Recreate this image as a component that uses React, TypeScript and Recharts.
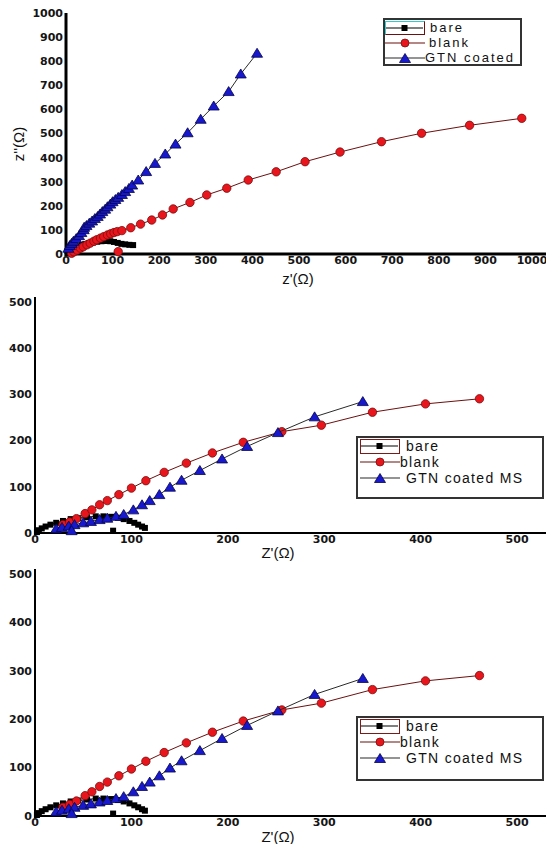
import React from 'react';
import { ScatterChart, Scatter, XAxis, YAxis, Label } from 'recharts';

type Pt = [number, number];

const names1 = ['bare', 'blank', 'GTN coated'];
const names2 = ['bare', 'blank', 'GTN coated MS'];

const ticks1 = [0, 100, 200, 300, 400, 500, 600, 700, 800, 900, 1000];
const ticks2 = [0, 100, 200, 300, 400, 500];

// top plot
const bare1: Pt[] = [
  [3, 2], [6, 9], [10, 15], [15, 21], [21, 27], [27, 32], [34, 37], [41, 41], [49, 45], [58, 48],
  [67, 51], [76, 53], [86, 54], [95, 53], [103, 50], [111, 46], [119, 42], [127, 40], [136, 38], [144, 37],
];
const blank1: Pt[] = [
  [12, 3], [17, 9], [24, 16], [31, 24], [37, 30], [45, 38], [52, 45], [60, 53], [66, 59], [74, 66],
  [81, 72], [89, 79], [96, 84], [103, 89], [110, 93], [120, 97], [139, 109], [160, 124], [184, 141],
  [207, 162], [230, 187], [266, 214], [302, 245], [345, 273], [391, 307], [451, 341], [513, 383],
  [588, 423], [677, 466], [763, 501], [866, 534], [978, 563],
];
const blankStray1: Pt[] = [[112, 10]];
const gtn1: Pt[] = [
  [5, 24], [8, 35], [12, 44], [16, 53], [22, 64], [28, 76], [33, 89], [38, 101], [39, 111], [44, 118],
  [50, 128], [56, 137], [62, 147], [68, 156], [73, 166], [78, 176], [84, 186], [89, 196], [95, 207],
  [100, 217], [106, 226], [112, 235], [120, 247], [127, 259], [135, 272], [142, 286], [155, 307],
  [172, 342], [191, 376], [213, 415], [235, 456], [261, 503], [289, 559], [317, 614], [349, 674],
  [375, 747], [410, 833],
];

// middle and bottom plots
const bare2: Pt[] = [
  [2, 2], [4, 6], [7, 10], [11, 14], [16, 18], [22, 22], [29, 26], [37, 30], [45, 32], [54, 34],
  [63, 36], [71, 36], [79, 35], [86, 33], [92, 30], [98, 26], [103, 22], [107, 18], [111, 14], [114, 11],
];
const bareStray2: Pt[] = [[81, 5]];
const blank2: Pt[] = [
  [29, 18], [36, 24], [43, 31], [52, 42], [59, 50], [67, 61], [75, 70], [87, 83], [100, 97], [115, 113],
  [134, 131], [157, 151], [184, 173], [216, 196], [256, 219], [297, 233], [350, 261], [405, 279], [461, 290],
];
const gtn2: Pt[] = [
  [22, 9], [28, 12], [35, 15], [41, 18], [50, 22], [58, 25], [67, 29], [75, 32], [84, 36], [92, 40],
  [102, 50], [111, 61], [119, 70], [129, 83], [140, 99], [152, 114], [171, 135], [194, 160], [220, 187],
  [252, 217], [290, 251], [340, 284],
];
const gtnStray2: Pt[] = [[38, 5]];

const toXY = (pts: Pt[]) => pts.map(([x, y]) => ({ x, y }));

const RED = '#e8161c';
const BLUE = '#1818cc';

const Square = (p: any) => <rect x={p.cx - 3} y={p.cy - 3} width={6} height={6} fill="#000" />;
const Dot = (p: any) => (
  <circle cx={p.cx} cy={p.cy} r={4.2} fill={RED} stroke="#7a0c0c" strokeWidth={0.8} />
);
const Tri = (p: any) => (
  <polygon
    points={`${p.cx},${p.cy - 5} ${p.cx + 5.5},${p.cy + 4} ${p.cx - 5.5},${p.cy + 4}`}
    fill={BLUE}
    stroke="#05054a"
    strokeWidth={0.8}
  />
);

const tickStyle = { fill: '#151515', fontFamily: 'DejaVu Sans', fontWeight: 'bold', fontSize: 11 };
const labelFont = { fontFamily: 'Liberation Sans, Arial', fontSize: 15, fill: '#111' };

interface PanelProps {
  top: number;
  height: number;
  marginTop: number;
  xHeight: number;
  yWidth: number;
  xDomain: [number, number];
  yDomain: [number, number];
  ticks: number[];
  axisWidth: number;
  series: { bare: Pt[]; blank: Pt[]; gtn: Pt[]; strays: { pts: Pt[]; kind: string }[] };
  xLabel: string;
  xLabelPos: [number, number];
  yLabel?: string;
  yLabelPos?: [number, number];
}

function Panel(p: PanelProps) {
  const shapes: Record<string, any> = { bare: Square, blank: Dot, gtn: Tri };
  return (
    <div style={{ position: 'absolute', left: 0, top: p.top, width: 546, height: p.height }}>
      <ScatterChart width={546} height={p.height} margin={{ top: p.marginTop, right: 0, bottom: 0, left: 0 }}>
        <XAxis
          type="number"
          dataKey="x"
          domain={p.xDomain}
          ticks={p.ticks}
          interval={0}
          tickLine={false}
          tickSize={0}
          tickMargin={2}
          height={p.xHeight}
          axisLine={{ stroke: '#000', strokeWidth: p.axisWidth }}
          tick={tickStyle}
        >
          <Label
            content={() => (
              <text x={p.xLabelPos[0]} y={p.xLabelPos[1]} textAnchor="middle" dominantBaseline="central" {...labelFont}>
                {p.xLabel}
              </text>
            )}
          />
        </XAxis>
        <YAxis
          type="number"
          dataKey="y"
          domain={p.yDomain}
          ticks={p.ticks.filter((t) => t <= p.yDomain[1])}
          interval={0}
          tickLine={false}
          tickSize={0}
          tickMargin={3}
          width={p.yWidth}
          axisLine={{ stroke: '#000', strokeWidth: p.axisWidth }}
          tick={tickStyle}
        >
          {p.yLabel && p.yLabelPos ? (
            <Label
              content={() => (
                <text
                  x={p.yLabelPos![0]}
                  y={p.yLabelPos![1]}
                  transform={`rotate(-90 ${p.yLabelPos![0]} ${p.yLabelPos![1]})`}
                  textAnchor="middle"
                  dominantBaseline="central"
                  {...labelFont}
                >
                  {p.yLabel}
                </text>
              )}
            />
          ) : null}
        </YAxis>
        <Scatter name="bare" data={toXY(p.series.bare)} shape={Square} line={{ stroke: '#000', strokeWidth: 1 }} isAnimationActive={false} />
        <Scatter name="blank" data={toXY(p.series.blank)} shape={Dot} line={{ stroke: '#6b1010', strokeWidth: 1 }} isAnimationActive={false} />
        <Scatter name="gtn" data={toXY(p.series.gtn)} shape={Tri} line={{ stroke: '#2a2a2a', strokeWidth: 1 }} isAnimationActive={false} />
        {p.series.strays.map((s, i) => (
          <Scatter key={i} data={toXY(s.pts)} shape={shapes[s.kind]} legendType="none" isAnimationActive={false} />
        ))}
      </ScatterChart>
    </div>
  );
}

function LegendSym({ kind, w, lineColor }: { kind: string; w: number; lineColor: string }) {
  const c = w / 2;
  return (
    <svg width={w} height={12} style={{ display: 'block' }}>
      <line x1={0} y1={6} x2={w} y2={6} stroke={lineColor} strokeWidth={1.2} />
      {kind === 'bare' && <rect x={c - 3} y={3} width={6} height={6} fill="#000" />}
      {kind === 'blank' && <circle cx={c} cy={6} r={4} fill={RED} stroke="#7a0c0c" strokeWidth={0.8} />}
      {kind === 'gtn' && <polygon points={`${c},1.5 ${c + 5.5},10.5 ${c - 5.5},10.5`} fill={BLUE} stroke="#05054a" strokeWidth={0.8} />}
    </svg>
  );
}

function LegendBox({ left, top, width, height, names, gaps, boxColor, rowH, fontSize, spacing }: {
  left: number; top: number; width: number; height: number; names: string[];
  gaps: number[]; boxColor: [string, string]; rowH: number; fontSize: number; spacing: number;
}) {
  const kinds = ['bare', 'blank', 'gtn'];
  const lines = ['#000', '#6b1010', '#2a2a2a'];
  return (
    <div
      style={{
        position: 'absolute', left, top, width, height, boxSizing: 'border-box',
        border: '2px solid #333', background: '#fff', fontFamily: 'Liberation Sans, Arial',
        fontSize, letterSpacing: spacing, color: '#111',
      }}
    >
      {names.map((n, i) => (
        <div key={n} style={{ display: 'flex', alignItems: 'center', height: rowH, lineHeight: `${rowH}px`, whiteSpace: 'nowrap' }}>
          <div
            style={{
              marginLeft: gaps[3],
              width: 40,
              height: rowH - 1,
              display: 'flex',
              alignItems: 'center',
              boxSizing: 'border-box',
              border: i === 0 ? `1.5px solid ${boxColor[1]}` : 'none',
              borderTopColor: i === 0 ? boxColor[0] : undefined,
              borderLeftColor: i === 0 ? boxColor[0] : undefined,
            }}
          >
            <LegendSym kind={kinds[i]} w={i === 0 ? 37 : 40} lineColor={lines[i]} />
          </div>
          <span style={{ marginLeft: gaps[i] }}>{n}</span>
        </div>
      ))}
    </div>
  );
}

export default function App() {
  return (
    <div style={{ position: 'absolute', left: 0, top: 0, width: 546, height: 844, background: '#fff', overflow: 'hidden' }}>
      <Panel
        top={0}
        height={290}
        marginTop={13}
        xHeight={36}
        yWidth={66}
        xDomain={[0, 1030]}
        yDomain={[0, 1000]}
        ticks={ticks1}
        axisWidth={3}
        series={{ bare: bare1, blank: blank1, gtn: gtn1, strays: [{ pts: blankStray1, kind: 'blank' }] }}
        xLabel="z'(Ω)"
        xLabelPos={[298, 278]}
        yLabel={"z''(Ω)"}
        yLabelPos={[18, 144]}
      />
      <Panel
        top={285}
        height={280}
        marginTop={12}
        xHeight={32}
        yWidth={35}
        xDomain={[0, 530]}
        yDomain={[0, 510]}
        ticks={ticks2}
        axisWidth={2}
        series={{
          bare: bare2, blank: blank2, gtn: gtn2,
          strays: [{ pts: bareStray2, kind: 'bare' }, { pts: gtnStray2, kind: 'gtn' }],
        }}
        xLabel="Z'(Ω)"
        xLabelPos={[278, 267]}
      />
      <Panel
        top={560}
        height={284}
        marginTop={9}
        xHeight={28}
        yWidth={35}
        xDomain={[0, 530]}
        yDomain={[0, 510]}
        ticks={ticks2}
        axisWidth={2}
        series={{
          bare: bare2, blank: blank2, gtn: gtn2,
          strays: [{ pts: bareStray2, kind: 'bare' }, { pts: gtnStray2, kind: 'gtn' }],
        }}
        xLabel="Z'(Ω)"
        xLabelPos={[278, 276]}
      />
      <LegendBox left={383} top={18} width={139} height={48} names={names1} gaps={[5, 4, 0, 0]} boxColor={['#3cc', '#6b1010']} rowH={15} fontSize={13} spacing={2} />
      <LegendBox left={356} top={436} width={188} height={63} names={names2} gaps={[6, 0, 6, 2]} boxColor={['#7a1a1a', '#7a1a1a']} rowH={16} fontSize={14} spacing={1.3} />
      <LegendBox left={356} top={716} width={188} height={65} names={names2} gaps={[6, 0, 6, 2]} boxColor={['#7a1a1a', '#7a1a1a']} rowH={16} fontSize={14} spacing={1.3} />
    </div>
  );
}
